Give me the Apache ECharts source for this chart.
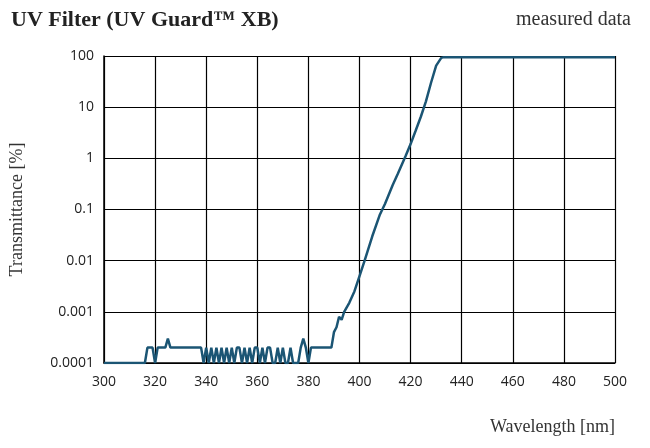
<!DOCTYPE html><html><head><meta charset="utf-8"><script src="https://cdn.jsdelivr.net/npm/echarts@6/dist/echarts.min.js"></script></head><body style="margin:0"><div id="c" style="width:650px;height:448px"></div><script>
const wl=[300,316,317,318,319,320,321,322,324,325,326,327,338,339,340,341,342,343,344,345,346,347,348,349,350,351,352,353,354,355,356,357,358,359,360,361,362,363,364,365,366,367,368,369,370,371,372,373,374,375,376,377,378,379,380,381,382,389,390,391,392,393,394,396,398,400,402,405,408,410,413,415,418,420,422,424,426,428,430,432,433,435,440,450,460,480,500];
const tr=[0.0001,0.0001,0.0002,0.0002,0.0002,0.0001,0.0002,0.0002,0.0002,0.0003,0.0002,0.0002,0.0002,0.0001,0.0002,0.0001,0.0002,0.0001,0.0002,0.0001,0.0002,0.0001,0.0002,0.0001,0.0002,0.0001,0.0002,0.0002,0.0001,0.0002,0.0001,0.0002,0.0001,0.0002,0.0002,0.0001,0.0002,0.0001,0.0002,0.0002,0.0001,0.0001,0.0002,0.0001,0.0002,0.0001,0.0001,0.0002,0.0001,0.0001,0.0001,0.0002,0.0003,0.0002,0.0001,0.0002,0.0002,0.0002,0.0004,0.0005,0.0008,0.0007,0.001,0.0015,0.0025,0.005,0.01,0.03,0.08,0.13,0.3,0.5,1.1,1.9,3.5,6.5,13,30,65,92,95,95,95,95,95,95,95];
const xTicks=[300,500,20];
const yLabels=['0.0001','0.001','0.01','0.1','1','10','100'];
const f='"Liberation Serif","DejaVu Serif",serif';
const ch=echarts.init(document.getElementById('c'));
ch.setOption({animation:false,
title:[{text:'UV Filter (UV Guard™ XB)',left:6,top:4,textStyle:{fontFamily:f,fontSize:22,fontWeight:'bold',color:'#222'}},
{text:'measured data',right:14,top:5,textStyle:{fontFamily:f,fontSize:20,fontWeight:'normal',color:'#333'}}],
grid:{left:102,right:35,top:56,bottom:85},
xAxis:{type:'value',min:xTicks[0],max:xTicks[1],interval:xTicks[2],name:'Wavelength [nm]',nameLocation:'end',nameGap:0,
nameTextStyle:{fontFamily:f,fontSize:18,color:'#333',align:'right',verticalAlign:'top',padding:[55,0,0,0]},
axisLine:{lineStyle:{color:'#000',width:1.5}},axisTick:{show:false},
axisLabel:{fontFamily:'"Open Sans",sans-serif',fontSize:14,color:'#222',margin:12},splitLine:{lineStyle:{color:'#000',width:1.2}}},
yAxis:{type:'log',min:0.0001,max:100,logBase:10,name:'Transmittance [%]',nameLocation:'middle',nameGap:78,
nameTextStyle:{fontFamily:f,fontSize:18,color:'#333'},
axisLine:{lineStyle:{color:'#000',width:1.5}},axisTick:{show:false},
axisLabel:{fontFamily:'"Open Sans",sans-serif',fontSize:14,color:'#222',margin:10,formatter:v=>{const i=Math.round(Math.log10(v))+4;return yLabels[i]||'';}},
splitLine:{lineStyle:{color:'#000',width:1.2}}},
series:[{type:'line',data:wl.map((w,i)=>[w,tr[i]]),showSymbol:false,lineStyle:{color:'#1b5574',width:2.5}}]
});
</script></body></html>
